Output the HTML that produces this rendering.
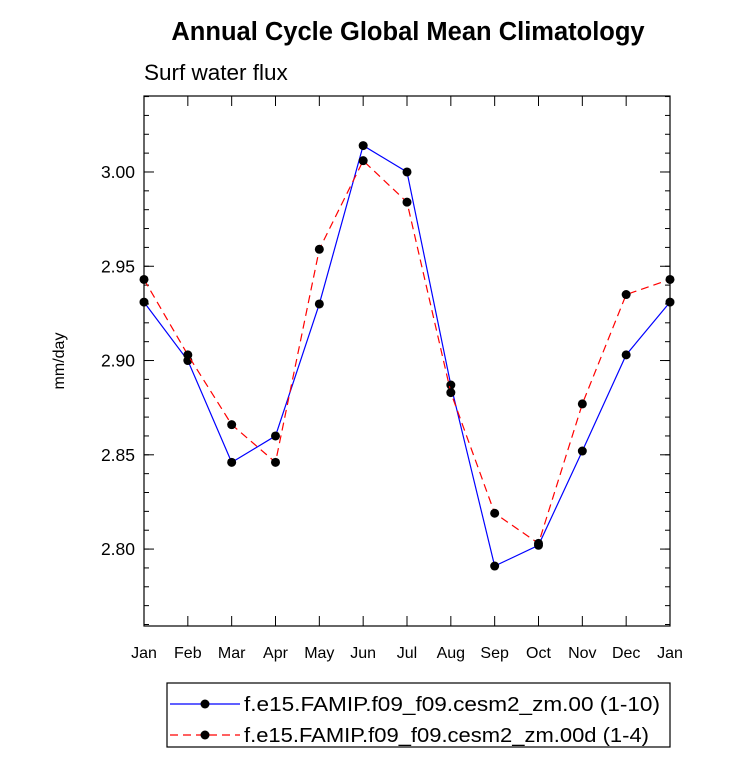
<!DOCTYPE html>
<html><head><meta charset="utf-8"><style>
body{margin:0;background:#fff;}
svg{display:block;font-family:"Liberation Sans",Arial,sans-serif;}
</style></head><body>
<svg id="chart" width="733" height="761">
<text x="408" y="40" text-anchor="middle" font-size="25.5" font-weight="bold">Annual Cycle Global Mean Climatology</text>
<text x="144" y="80" font-size="22.5">Surf water flux</text>
<text transform="translate(64,361) rotate(-90)" text-anchor="middle" font-size="16">mm/day</text>
<g id="axes"></g>
<g id="series"></g>
<g>
<rect x="167" y="683" width="503" height="64" fill="#fff" stroke="#000" stroke-width="1.2"/>
<line x1="170" y1="704" x2="240" y2="704" stroke="#0000ff" stroke-width="1.2"/>
<circle cx="205" cy="704" r="4.5" fill="#000"/>
<text x="244" y="711" textLength="416" lengthAdjust="spacingAndGlyphs" font-size="20">f.e15.FAMIP.f09_f09.cesm2_zm.00 (1-10)</text>
<line x1="170" y1="735" x2="240" y2="735" stroke="#ff0000" stroke-width="1.2" stroke-dasharray="8,5"/>
<circle cx="205" cy="735" r="4.5" fill="#000"/>
<text x="244" y="742" textLength="405" lengthAdjust="spacingAndGlyphs" font-size="20">f.e15.FAMIP.f09_f09.cesm2_zm.00d (1-4)</text>
</g>
</svg>
<script>
const months=["Jan","Feb","Mar","Apr","May","Jun","Jul","Aug","Sep","Oct","Nov","Dec","Jan"];
const blueVals=[2.931,2.900,2.846,2.860,2.930,3.014,3.000,2.887,2.791,2.802,2.852,2.903,2.931];
const redVals=[2.943,2.903,2.866,2.846,2.959,3.006,2.984,2.883,2.819,2.803,2.877,2.935,2.943];
const yTicks=[2.80,2.85,2.90,2.95,3.00];
const yMin=2.7592,yMax=3.0403;
const L=144,R=670,T=96,B=626;
const NS="http://www.w3.org/2000/svg";
const xs=i=>L+(R-L)*i/(months.length-1);
const ys=v=>B-(v-yMin)/(yMax-yMin)*(B-T);
function mk(t,a,p){const e=document.createElementNS(NS,t);for(const k in a)e.setAttribute(k,a[k]);p.appendChild(e);return e;}
const ax=document.getElementById('axes');
const frame=mk('rect',{x:L,y:T,width:R-L,height:B-T,fill:'none',stroke:'#000','stroke-width':1.2},ax);


months.forEach((m,i)=>{
 const x=xs(i);
 mk('line',{x1:x,y1:B,x2:x,y2:B-10,stroke:'#000'},ax);
 mk('line',{x1:x,y1:T,x2:x,y2:T+10,stroke:'#000'},ax);
 const t=mk('text',{x:x,y:B+32,'text-anchor':'middle','font-size':16},ax);
 t.textContent=m;
 
 
});
for(let v=2.76;v<=3.04+1e-9;v+=0.01){
 const y=ys(v);
 mk('line',{x1:L,y1:y,x2:L+5,y2:y,stroke:'#000'},ax);
 mk('line',{x1:R,y1:y,x2:R-5,y2:y,stroke:'#000'},ax);
}
yTicks.forEach(v=>{
 const y=ys(v);
 mk('line',{x1:L,y1:y,x2:L+10,y2:y,stroke:'#000'},ax);
 mk('line',{x1:R,y1:y,x2:R-10,y2:y,stroke:'#000'},ax);
 const t=mk('text',{x:L-9,y:y+6,'text-anchor':'end','font-size':17.5},ax);
 t.textContent=v.toFixed(2);
 
 
});
const sg=document.getElementById('series');
function draw(vals,color,dash,name){
 const pl=mk('polyline',{points:vals.map((v,i)=>xs(i)+','+ys(v)).join(' '),fill:'none',stroke:color,'stroke-width':1.2,'stroke-dasharray':dash},sg);
 
 
 vals.forEach((v,i)=>{
  const c=mk('circle',{cx:xs(i),cy:ys(v),r:4.5,fill:'#000'},sg);
  
  
 });
}
draw(blueVals,'#0000ff','none','blue-series');
draw(redVals,'#ff0000','8,5','red-series');
</script>
</body></html>
